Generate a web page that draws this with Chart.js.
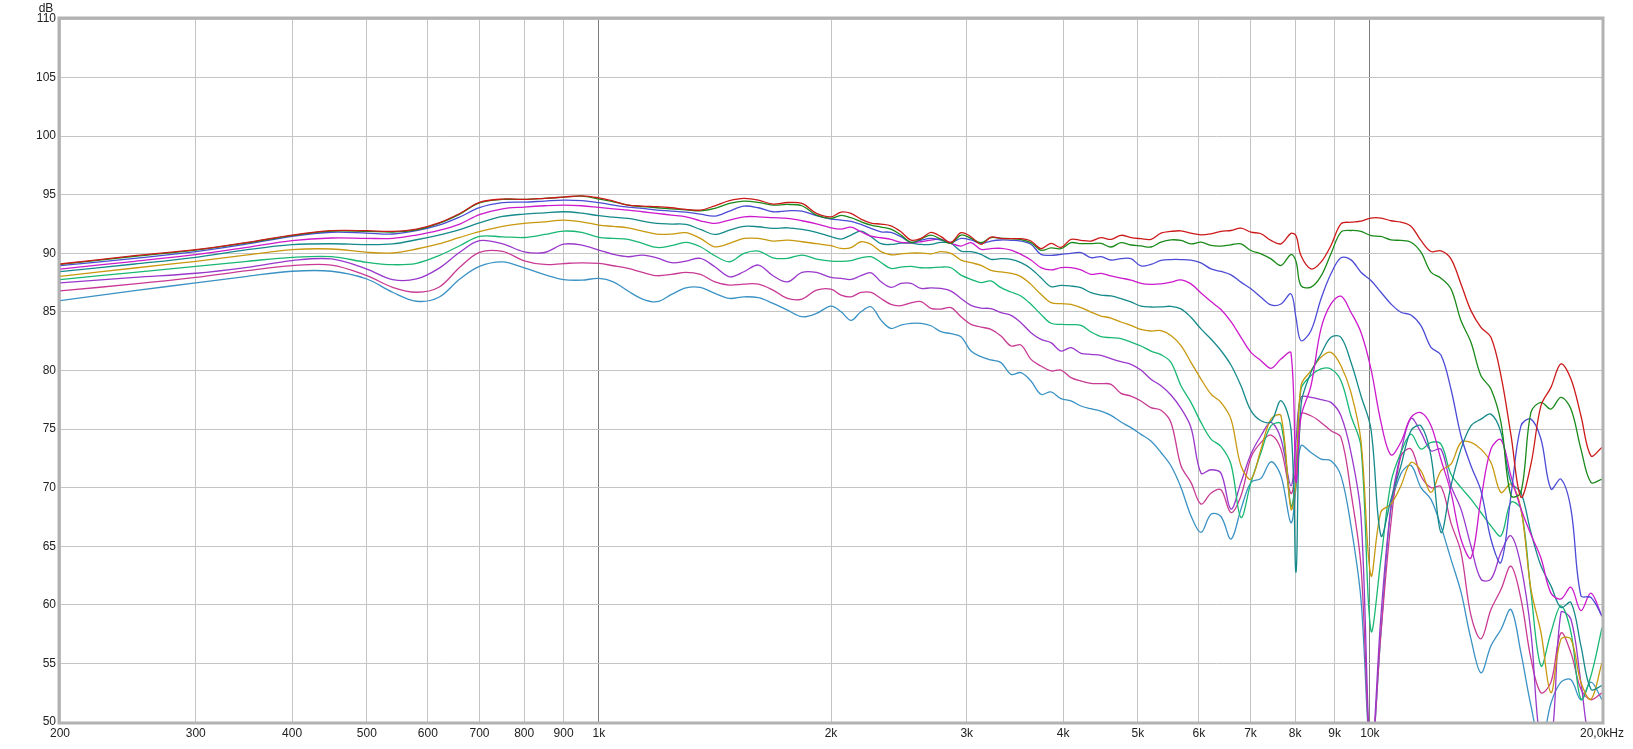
<!DOCTYPE html>
<html>
<head>
<meta charset="utf-8">
<script src="https://cdn.jsdelivr.net/npm/chart.js@4.4.1/dist/chart.umd.min.js"></script>
<style>
  html, body { margin: 0; padding: 0; background: #fff; }
  canvas { display: block; }
</style>
</head>
<body>
<canvas id="chart" width="1633" height="749"></canvas>
<script>
// frequency points (Hz) shared by all curves
const freqHz = [
  200, 250, 300, 350, 400, 450, 500, 540, 580, 620, 660, 700, 750, 800, 850, 900, 950,
  1000, 1044, 1091, 1139, 1189, 1242, 1297, 1354, 1414, 1477, 1542, 1610, 1682, 1756, 1834, 1915,
  2000, 2061, 2123, 2187, 2254, 2322, 2392, 2465, 2540, 2617, 2696, 2778, 2862, 2949,
  3038, 3130, 3225, 3323, 3424, 3527, 3634, 3744, 3858, 3975, 4095, 4219, 4347, 4479, 4615, 4755, 4899, 5047, 5200,
  5358, 5520, 5688, 5860, 6038, 6221, 6409, 6604, 6804, 7010, 7223, 7442, 7667, 7900,
  8020,
  8139, 8386, 8640, 8902, 9172, 9450, 9736, 10031,
  10335, 10649, 10971, 11304, 11647, 12000, 12364, 12738, 13125, 13522, 13932, 14355, 14790, 15238, 15700, 16176, 16667, 17172, 17692, 18229, 18781, 19350, 20000
];

const curveRed = [
  89.09, 89.8, 90.31, 90.94, 91.56, 91.93, 91.93, 91.88, 92.07, 92.6, 93.4, 94.35, 94.63, 94.6, 94.69, 94.8, 94.91,
  94.74, 94.46, 94.12, 94.03, 93.98, 93.89, 93.75, 93.69, 94.06, 94.49, 94.69, 94.54, 94.2, 94.34, 94.26, 93.41,
  93.12, 93.52, 93.41, 92.92, 92.58, 92.5, 92.35, 91.84, 91.13, 91.27, 91.79, 91.42, 90.93, 91.76,
  91.42, 90.77, 91.39, 91.28, 91.25, 91.25, 91.05, 90.4, 90.85, 90.51, 91.19, 91.11, 91.05, 91.34, 91.19, 91.54, 91.34, 91.25, 91.19,
  91.72, 91.87, 91.92, 91.72, 91.58, 91.67, 91.87, 91.95, 92.15, 91.81, 91.67, 91.1, 90.81, 91.7,
  91.5,
  89.81, 88.67, 89.25, 90.67, 92.52, 92.66, 92.75, 93.01,
  93.01, 92.78, 92.66, 92.32, 91.1, 90.16, 90.21, 89.53, 87.39, 85.11, 83.69, 82.83, 79.56, 74.5, 69.2, 72.0, 77.0, 78.56, 80.56, 79.27, 76.14, 72.72, 73.43
];

const curveGreen = [
  89.05, 89.75, 90.28, 90.9, 91.52, 91.9, 91.88, 91.82, 92.0, 92.55, 93.35, 94.3, 94.6, 94.6, 94.69, 94.8, 94.88,
  94.63, 94.4, 94.12, 93.98, 93.89, 93.8, 93.72, 93.63, 93.83, 94.26, 94.46, 94.35, 94.12, 94.17, 94.06, 93.26,
  92.98, 93.24, 93.04, 92.7, 92.41, 92.24, 92.07, 91.56, 90.93, 91.22, 91.56, 91.19, 90.85, 91.56,
  91.28, 90.91, 91.34, 91.28, 91.25, 91.17, 90.91, 90.26, 90.46, 90.4, 90.91, 90.83, 90.83, 90.85, 90.54, 90.91, 90.71, 90.63, 90.54,
  90.95, 91.15, 91.1, 90.81, 90.95, 90.67, 90.61, 90.73, 90.81, 90.24, 89.96, 89.53, 88.96, 89.9,
  89.3,
  87.25, 87.11, 88.05, 89.96, 91.81, 91.95, 91.87, 91.52,
  91.44, 91.15, 91.1, 90.95, 90.1, 88.39, 87.88, 86.97, 84.26, 82.41, 79.56, 78.42, 75.57, 69.31, 69.59, 76.42, 77.28, 76.71, 77.71, 76.71, 73.29, 70.45, 70.73
];

const curveBlue = [
  88.95, 89.57, 90.14, 90.8, 91.45, 91.8, 91.73, 91.65, 91.93, 92.4, 93.1, 93.9, 94.32, 94.37, 94.46, 94.54, 94.49,
  94.32, 94.12, 93.95, 93.83, 93.69, 93.61, 93.52, 93.35, 93.18, 93.61, 94.03, 93.89, 93.55, 93.63, 93.61, 93.21,
  92.92, 92.84, 92.72, 92.47, 92.13, 91.84, 91.79, 91.42, 90.93, 91.13, 91.27, 91.13, 90.93, 91.27,
  91.14, 90.85, 91.05, 91.14, 91.11, 91.05, 90.77, 89.91, 89.83, 89.91, 90.0, 90.06, 89.63, 89.72, 89.43, 89.54, 89.54, 88.92, 89.06,
  89.39, 89.47, 89.47, 89.42, 89.19, 88.67, 88.45, 88.16, 87.54, 86.97, 86.25, 85.6, 85.68, 86.54,
  84.5,
  82.55, 83.4, 86.11, 88.25, 89.62, 89.44, 88.39, 87.68,
  86.68, 85.68, 84.97, 84.74, 83.83, 81.98, 81.32, 78.42, 74.43, 71.87, 69.73, 65.6, 63.61, 69.31, 75.28, 75.85, 74.15, 69.88, 70.73, 68.17, 60.77, 60.63, 59.06
];

const curveMagenta = [
  88.66, 89.32, 89.89, 90.51, 91.08, 91.31, 91.28, 91.28, 91.56, 91.95, 92.5, 93.3, 93.8, 93.95, 94.06, 94.12, 94.06,
  93.92, 93.8, 93.69, 93.55, 93.41, 93.26, 93.12, 92.78, 92.55, 92.84, 93.12, 93.12, 93.04, 92.98, 92.78, 92.52,
  92.18, 92.07, 92.24, 91.84, 91.47, 91.33, 91.19, 90.93, 90.9, 90.99, 91.13, 91.22, 90.85, 90.62,
  90.91, 90.34, 90.4, 90.43, 90.28, 89.91, 89.43, 88.78, 88.58, 88.78, 88.78, 88.58, 88.21, 88.29, 88.07, 87.89, 87.72, 87.44, 87.35,
  87.39, 87.54, 87.74, 87.39, 86.62, 85.88, 85.2, 84.17, 82.83, 81.55, 80.84, 80.19, 80.98, 81.5,
  70.5,
  76.0, 78.7, 83.55, 85.68, 86.34, 84.97, 83.26, 80.13,
  75.6, 72.8, 73.9, 76.0, 76.4, 75.3, 72.4, 69.6, 65.6, 64.0, 69.0, 73.3, 74.1, 71.0, 68.2, 66.0, 64.0, 61.0, 60.5, 61.5, 59.5, 61.0, 59.0
];

const curveTeal = [
  88.44, 89.09, 89.66, 90.31, 90.74, 90.82, 90.74, 90.8, 91.16, 91.56, 92.02, 92.6, 93.15, 93.35, 93.46, 93.55, 93.43,
  93.21, 93.09, 92.98, 92.75, 92.55, 92.5, 92.47, 92.04, 91.61, 91.98, 92.3, 92.27, 92.13, 92.18, 92.04, 91.79,
  91.42, 91.22, 91.56, 91.9, 91.42, 90.82, 90.76, 90.87, 90.87, 90.76, 90.76, 90.93, 90.85, 90.19,
  90.14, 89.91, 89.49, 89.54, 89.49, 89.2, 88.69, 87.92, 87.16, 87.27, 87.21, 87.07, 86.64, 86.44, 86.36, 86.13, 85.85, 85.5, 85.42,
  85.43, 85.48, 85.26, 84.54, 83.55, 82.69, 81.7, 80.47, 78.7, 76.57, 75.71, 75.63, 77.42, 75.0,
  62.8,
  77.0, 79.84, 81.41, 82.83, 82.83, 80.7, 77.85, 75.0,
  65.9, 69.0, 71.87, 74.86, 75.28, 72.72, 66.18, 70.16, 73.29, 75.28, 75.85, 76.28, 74.72, 70.45, 69.59, 66.18, 63.33, 61.62, 59.77, 60.2, 56.5, 52.8, 53.1
];

const curveGold = [
  88.04, 88.75, 89.32, 89.86, 90.31, 90.37, 90.09, 90.03, 90.37, 90.8, 91.36, 91.85, 92.3, 92.55, 92.69, 92.83, 92.69,
  92.41, 92.3, 92.18, 91.9, 91.64, 91.64, 91.76, 91.27, 90.56, 90.85, 91.27, 91.27, 91.05, 91.13, 90.99, 90.82,
  90.65, 90.42, 90.48, 90.99, 90.76, 90.14, 89.88, 89.96, 90.02, 90.02, 89.96, 90.14, 89.99, 89.42,
  89.2, 88.98, 88.55, 88.41, 88.29, 88.01, 87.35, 86.5, 85.79, 85.7, 85.65, 85.36, 84.99, 84.65, 84.48, 84.14, 83.85, 83.51, 83.37,
  83.4, 82.98, 82.12, 80.7, 79.27, 77.99, 77.28, 75.85, 71.87, 70.73, 73.29, 75.85, 76.14, 68.17,
  70.5,
  78.7, 79.99, 81.13, 81.55, 80.41, 78.13, 74.0, 62.5,
  67.94, 68.6, 70.16, 72.15, 71.44, 69.59, 71.44, 72.0, 73.86, 73.86, 73.29, 72.15, 69.59, 70.3, 68.17, 61.34, 57.64, 52.5, 57.07, 57.07, 53.37, 51.94, 55.07
];

const curveEmerald = [
  87.76, 88.38, 88.89, 89.32, 89.66, 89.72, 89.23, 89.03, 89.15, 89.8, 90.65, 91.45, 91.41, 91.35, 91.61, 91.9, 91.78,
  91.36, 91.27, 91.19, 90.85, 90.5, 90.65, 90.93, 90.56, 89.79, 89.28, 89.99, 90.19, 89.62, 89.57, 89.85, 89.51,
  89.34, 89.31, 89.37, 89.62, 89.71, 89.22, 88.71, 88.83, 88.88, 88.77, 88.77, 88.83, 88.77, 88.14,
  87.78, 87.5, 87.64, 87.07, 86.7, 86.36, 85.65, 84.79, 84.03, 83.94, 83.91, 83.85, 83.29, 82.89, 82.8, 82.72, 82.43, 82.09, 81.66,
  81.35, 80.7, 78.7, 77.28, 75.57, 74.15, 73.52, 72.0, 67.46, 70.45, 73.0, 75.28, 75.43, 68.45,
  71.0,
  78.4, 79.56, 80.13, 80.13, 79.13, 76.14, 73.5, 57.8,
  63.9, 70.45, 73.0, 74.57, 73.29, 73.86, 73.72, 71.16, 70.02, 69.02, 67.88, 66.74, 65.89, 68.74, 68.17, 61.05, 54.79, 57.64, 59.91, 57.64, 51.94, 53.94, 58.06
];

const curvePurple = [
  87.47, 87.95, 88.3, 88.81, 89.38, 89.52, 88.66, 87.76, 87.81, 88.72, 90.09, 91.08, 90.81, 90.13, 90.07, 90.78, 90.7,
  90.28, 89.91, 89.71, 89.85, 89.62, 89.2, 89.34, 89.57, 88.85, 88.0, 88.43, 89.0, 88.09, 87.57, 88.37, 88.37,
  87.94, 87.86, 87.77, 88.09, 88.34, 87.57, 87.09, 87.43, 87.43, 87.0, 87.06, 87.0, 86.78, 86.15,
  85.56, 85.33, 85.28, 84.94, 84.71, 84.08, 83.23, 82.66, 82.38, 81.66, 81.95, 81.47, 81.38, 81.29, 81.01, 80.75, 80.53, 80.04, 79.25,
  78.7, 77.91, 76.77, 75.14, 71.24, 71.53, 71.24, 68.17, 70.45, 72.87, 74.43, 75.57, 74.15, 70.16,
  74.0,
  77.71, 77.71, 77.51, 77.28, 76.14, 73.0, 67.6, 47.0,
  59.06, 68.45, 73.0, 75.91, 74.72, 73.15, 73.29, 70.16, 68.17, 65.04, 62.19, 62.19, 64.47, 65.89, 63.33, 57.64, 48.0, 48.0, 59.34, 58.77, 53.37, 48.0, 48.0
];

const curvePink = [
  86.79, 87.39, 87.95, 88.52, 88.95, 89.0, 88.1, 87.1, 86.68, 87.1, 88.81, 90.09, 90.16, 89.36, 89.05, 89.13, 89.19,
  89.14, 88.94, 88.71, 88.37, 88.09, 88.2, 88.37, 88.2, 87.57, 87.29, 87.37, 87.37, 86.86, 86.15, 86.1, 86.86,
  86.95, 86.44, 86.29, 86.66, 86.66, 86.15, 85.64, 85.53, 85.78, 85.87, 85.3, 85.24, 85.36, 84.59,
  83.94, 83.71, 83.51, 82.94, 82.09, 82.18, 80.95, 80.38, 79.96, 80.04, 79.39, 79.1, 78.9, 78.88, 78.82, 78.05, 77.82, 77.4, 76.83,
  76.6, 75.57, 71.87, 70.45, 68.6, 69.53, 69.82, 67.88, 69.31, 72.58, 73.86, 74.49, 73.29, 69.5,
  72.0,
  76.28, 76.14, 75.57, 74.86, 74.29, 69.59, 63.33, 47.0,
  57.6, 67.0, 72.7, 73.3, 71.0, 70.0, 70.1, 67.0, 64.5, 59.1, 57.1, 59.6, 61.3, 63.3, 60.5, 55.4, 52.5, 53.4, 57.6, 55.9, 52.8, 51.9, 52.5
];

const curveSteel = [
  85.97, 86.82, 87.47, 88.04, 88.47, 88.47, 87.81, 86.68, 85.91, 86.25, 87.81, 88.89, 89.27, 88.76, 88.19, 87.76, 87.71,
  87.86, 87.57, 86.78, 86.1, 85.87, 86.49, 87.06, 87.09, 86.58, 86.15, 86.29, 86.21, 85.73, 85.16, 84.59, 84.87,
  85.5, 85.01, 84.27, 85.01, 85.44, 84.3, 83.59, 83.88, 84.02, 84.02, 83.82, 83.31, 83.14, 82.88,
  81.66, 81.18, 80.9, 80.67, 79.67, 79.82, 79.1, 77.97, 78.17, 77.6, 77.4, 76.97, 76.74, 76.54, 76.17, 75.6, 75.12, 74.55, 73.98,
  73.0, 71.87, 70.02, 67.6, 66.18, 67.74, 67.54, 65.61, 68.17, 70.45, 70.79, 72.21, 71.01, 67.0,
  70.0,
  73.58, 73.0, 72.44, 72.3, 71.01, 66.75, 60.48, 47.0,
  57.6, 68.2, 71.2, 71.9, 70.0, 69.0, 66.7, 63.9, 61.1, 57.1, 54.2, 56.5, 57.9, 59.6, 55.9, 51.4, 48.0, 51.6, 53.4, 53.6, 51.9, 53.4, 51.9
];

// axis ticks
const xTickValues = [200, 300, 400, 500, 600, 700, 800, 900, 1000, 2000, 3000, 4000, 5000, 6000, 7000, 8000, 9000, 10000, 20000];
const xTickLabels = ['200', '300', '400', '500', '600', '700', '800', '900', '1k', '2k', '3k', '4k', '5k', '6k', '7k', '8k', '9k', '10k', '20,0kHz'];

const curves = [
  { values: curveRed, color: '#cc1a1a' },
  { values: curveGreen, color: '#1a8a1a' },
  { values: curveBlue, color: '#4c4cd6' },
  { values: curveMagenta, color: '#cc1acc' },
  { values: curveTeal, color: '#168a8a' },
  { values: curveGold, color: '#c8980e' },
  { values: curveEmerald, color: '#18b874' },
  { values: curvePurple, color: '#9a38cc' },
  { values: curvePink, color: '#c83a94' },
  { values: curveSteel, color: '#3a92c4' }
];

const PLOT_LEFT = 60, PLOT_TOP = 19, PLOT_RIGHT = 1602, PLOT_BOTTOM = 722;

const framePlugin = {
  id: 'frame',
  afterDatasetsDraw(chart) {
    const { ctx, chartArea: a } = chart;
    ctx.save();
    ctx.strokeStyle = '#b2b2b2';
    ctx.lineWidth = 3;
    ctx.strokeRect(a.left - 1, a.top - 1, a.right - a.left + 2, a.bottom - a.top + 2);
    ctx.fillStyle = '#222';
    ctx.font = '12px "Liberation Sans", Arial, sans-serif';
    ctx.textAlign = 'center';
    ctx.textBaseline = 'alphabetic';
    ctx.fillText('dB', 46, 12);
    ctx.restore();
  }
};

const tickFont = { family: '"Liberation Sans", Arial, sans-serif', size: 12 };

new Chart(document.getElementById('chart'), {
  type: 'line',
  data: {
    datasets: curves.map(c => ({
      data: freqHz.map((f, i) => ({ x: f, y: c.values[i] })),
      borderColor: c.color,
      borderWidth: 1.3,
      pointRadius: 0,
      tension: 0.35,
      fill: false
    }))
  },
  options: {
    responsive: false,
    animation: false,
    layout: { padding: { top: PLOT_TOP, right: 1633 - PLOT_RIGHT, left: 0, bottom: 0 } },
    plugins: { legend: { display: false }, tooltip: { enabled: false } },
    scales: {
      x: {
        type: 'logarithmic',
        min: 200,
        max: 20000,
        afterBuildTicks: axis => { axis.ticks = xTickValues.map(v => ({ value: v })); },
        afterFit: s => { s.height = 749 - PLOT_BOTTOM; },
        ticks: {
          autoSkip: false,
          maxRotation: 0,
          padding: 4,
          color: '#222',
          font: tickFont,
          callback: (v, i) => xTickLabels[i]
        },
        grid: {
          drawTicks: false,
          color: c => (c.tick && (c.tick.value === 1000 || c.tick.value === 10000)) ? '#7c7c7c' : '#c4c4c4',
          lineWidth: 1
        },
        border: { display: false }
      },
      y: {
        min: 50,
        max: 110,
        afterFit: s => { s.width = PLOT_LEFT; },
        ticks: { stepSize: 5, padding: 4, color: '#222', font: tickFont },
        grid: { drawTicks: false, color: '#c4c4c4', lineWidth: 1 },
        border: { display: false }
      }
    }
  },
  plugins: [framePlugin]
});
</script>
</body>
</html>
